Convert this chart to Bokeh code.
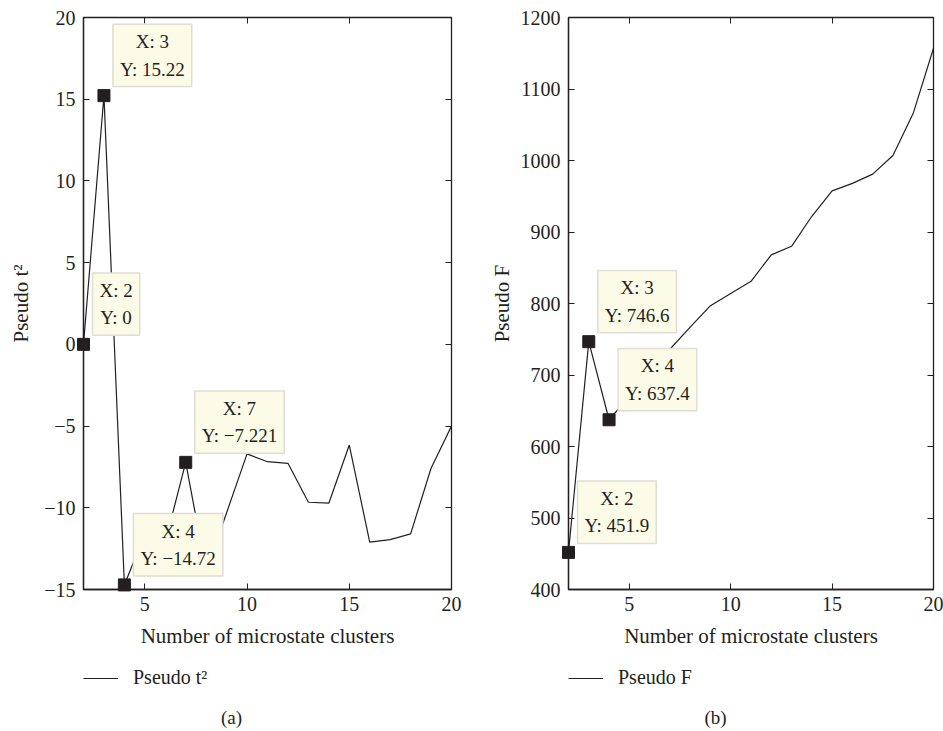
from bokeh.plotting import figure
from bokeh.models import (Label, Legend, LegendItem, LinearAxis,
                          FixedTicker, Range1d, CustomLabelingPolicy)
from bokeh.layouts import row, column
from bokeh.embed import file_html
from bokeh.resources import INLINE

FONT = "Liberation Serif"
INK = "#231f20"

clusters = list(range(2, 21))
pseudo_t2 = [0, 15.22, -14.72, -11.6, -12.1, -7.221, -13.9, -10.3, -6.7,
             -7.18, -7.28, -9.66, -9.72, -6.16, -12.1, -11.95, -11.6, -7.58, -5.0]
pseudo_f = [451.9, 746.6, 637.4, 670, 703, 736, 767, 797, 814, 831, 868,
            880, 922, 957.6, 968, 981, 1007, 1066, 1157]

t2_tip_x = [2, 3, 4, 7]
t2_tip_y = [0, 15.22, -14.72, -7.221]
t2_tip_txt = ["0", "15.22", "\u221214.72", "\u22127.221"]
f_tip_x = [2, 3, 4]
f_tip_y = [451.9, 746.6, 637.4]
f_tip_txt = ["451.9", "746.6", "637.4"]

x_ticks = [5, 10, 15, 20]
t2_ticks = [-15, -10, -5, 0, 5, 10, 15, 20]
f_ticks = [400, 500, 600, 700, 800, 900, 1000, 1100, 1200]

TOP_H = 655
BOT_H = 731 - TOP_H


def fmt(v):
    return str(v).replace("-", "\u2212")


def no_labels():
    return CustomLabelingPolicy(
        code="for (const i of Array.from(indices)) { indices.unset(i) }; return indices")


def make_panel(yvals, yticks, yrange, ylabel, tip_x, tip_y, tip_txt,
               left_border, frame_w, right_border, ylabel_standoff):
    p = figure(frame_width=frame_w, frame_height=572,
               x_range=Range1d(2, 20), y_range=Range1d(*yrange),
               output_backend="svg", toolbar_location=None,
               min_border_left=left_border, min_border_right=right_border,
               min_border_top=17, min_border_bottom=TOP_H - 17 - 572,
               background_fill_color="white", border_fill_color="white")
    p.grid.visible = False
    p.outline_line_color = INK
    p.outline_line_width = 1.3

    for ax in (p.xaxis[0], p.yaxis[0]):
        ax.major_tick_in = 6
        ax.major_tick_out = 0
        ax.minor_tick_line_color = None
        ax.axis_line_color = INK
        ax.axis_line_width = 1.3
        ax.major_tick_line_color = INK
        ax.major_label_text_font = FONT
        ax.major_label_text_font_size = "20px"
        ax.major_label_text_color = INK
        ax.axis_label_text_font = FONT
        ax.axis_label_text_font_size = "21px"
        ax.axis_label_text_font_style = "normal"
        ax.axis_label_text_color = INK

    p.xaxis.ticker = FixedTicker(ticks=x_ticks)
    p.yaxis.ticker = FixedTicker(ticks=yticks)
    p.xaxis.major_label_standoff = 7
    p.xaxis.axis_label = "Number of microstate clusters"
    p.xaxis.axis_label_standoff = 10
    p.yaxis.axis_label = ylabel
    p.yaxis.major_label_standoff = 8
    p.yaxis.axis_label_standoff = ylabel_standoff
    p.yaxis.major_label_overrides = {t: fmt(t) for t in yticks}

    top = LinearAxis(ticker=FixedTicker(ticks=x_ticks), major_label_policy=no_labels())
    right = LinearAxis(ticker=FixedTicker(ticks=yticks), major_label_policy=no_labels())
    for ax in (top, right):
        ax.major_tick_in = 6
        ax.major_tick_out = 0
        ax.minor_tick_line_color = None
        ax.axis_line_color = None
        ax.major_tick_line_color = INK
        ax.major_label_standoff = 0
        ax.major_label_text_font_size = "0px"
    p.add_layout(top, "above")
    p.add_layout(right, "right")

    p.line(clusters, yvals, line_color=INK, line_width=1.2)
    p.scatter(tip_x, tip_y, marker="square", size=12, color=INK, level="overlay")

    for tx, ty, tt in zip(tip_x, tip_y, tip_txt):
        p.add_layout(Label(x=tx, y=ty, x_offset=9, y_offset=9,
                           text=f"X: {tx}\nY: {tt}", anchor="bottom_left",
                           text_align="center", text_font=FONT,
                           text_font_size="19px", text_color=INK,
                           text_line_height=1.3, padding=7,
                           background_fill_color="#fcfbe8",
                           border_line_color="#deded2", border_line_width=1.5))
    return p


def make_footer(width, legend_label, caption, legend_x, caption_x):
    f = figure(width=width, height=BOT_H, x_range=Range1d(0, width),
               y_range=Range1d(0, BOT_H), output_backend="svg",
               toolbar_location=None, x_axis_location=None, y_axis_location=None,
               min_border=0, outline_line_color=None,
               background_fill_color="white", border_fill_color="white")
    f.grid.visible = False
    # legend key only: a single NaN point draws nothing in the plot area
    sample = f.line([float("nan")], [float("nan")], line_color=INK, line_width=1.2)
    legend = Legend(items=[LegendItem(label=legend_label, renderers=[sample])],
                    location=(legend_x, BOT_H - 24 - 10),
                    glyph_width=35, glyph_height=20, label_height=20,
                    label_standoff=15, padding=0, margin=0, spacing=0,
                    border_line_alpha=0, background_fill_alpha=0,
                    label_text_font=FONT, label_text_font_size="20px",
                    label_text_color=INK)
    f.add_layout(legend, "center")
    f.add_layout(Label(x=caption_x, y=BOT_H - 62, text=caption,
                       text_align="center", text_baseline="middle",
                       text_font=FONT, text_font_size="19px", text_color=INK))
    return f


pa = make_panel(pseudo_t2, t2_ticks, (-15, 20), "Pseudo t\u00b2",
                t2_tip_x, t2_tip_y, t2_tip_txt, 83, 368, 19, 8)
pb = make_panel(pseudo_f, f_ticks, (400, 1200), "Pseudo F",
                f_tip_x, f_tip_y, f_tip_txt, 98, 365, 10, 4)
fa = make_footer(470, "Pseudo t\u00b2", "(a)", 83, 231)
fb = make_footer(473, "Pseudo F", "(b)", 98, 245)

layout = column(row(pa, pb), row(fa, fb))
open("out.html", "w").write(file_html(layout, INLINE))
